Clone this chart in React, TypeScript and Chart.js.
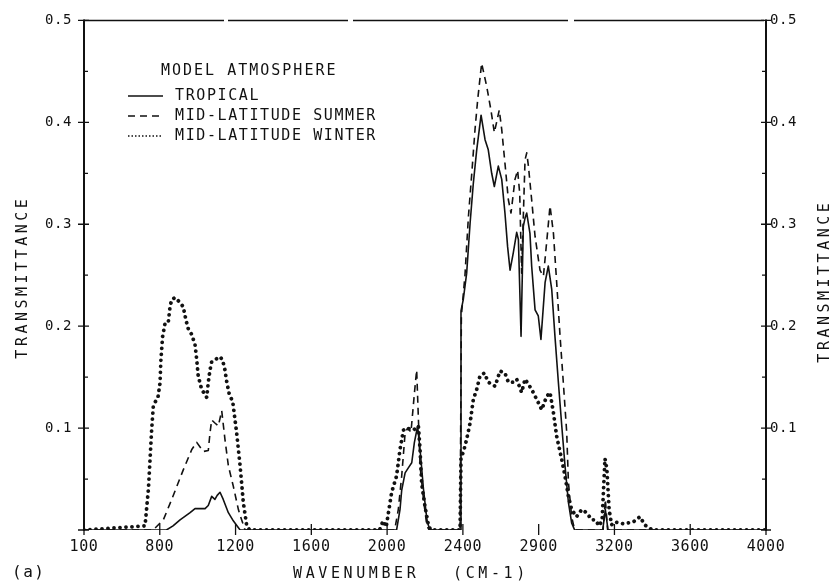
import React, { useEffect, useRef } from 'react';
import { Chart, registerables } from 'chart.js';

Chart.register(...registerables);

// ---------- data ----------
const X_TICK_LABELS = ['100', '800', '1200', '1600', '2000', '2400', '2900', '3200', '3600', '4000'];
const Y_TICK_LABELS = ['', '0.1', '0.2', '0.3', '0.4', '0.5'];

const LEGEND_TITLE = 'MODEL ATMOSPHERE';
const SERIES_NAMES = ['TROPICAL', 'MID-LATITUDE SUMMER', 'MID-LATITUDE WINTER'];
const X_TITLE_A = 'WAVENUMBER';
const X_TITLE_B = '(CM-1)';
const Y_TITLE = 'TRANSMITTANCE';
const PANEL_LABEL = '(a)';

const tropicalX = [400, 835, 870, 907, 960, 986, 1039, 1056, 1074, 1091, 1103, 1118, 1135, 1162, 1188, 1224,
  2050, 2068, 2077, 2095, 2112, 2130, 2144, 2161, 2174, 2192, 2210, 2225,
  2385, 2390, 2402, 2420, 2438, 2455, 2473, 2496, 2517, 2534, 2552, 2566, 2587, 2605, 2622, 2636, 2649, 2666,
  2684, 2693, 2707, 2719, 2728, 2737, 2754, 2763, 2781, 2798, 2812, 2834, 2851, 2869, 2886, 2904, 2922, 2939,
  2957, 2974, 2990, 3138, 3152, 3166, 4000];
const tropicalY = [0, 0, 0.004, 0.01, 0.017, 0.021, 0.021, 0.024, 0.033, 0.03, 0.034, 0.037, 0.03, 0.017, 0.009, 0,
  0, 0.02, 0.039, 0.056, 0.061, 0.066, 0.086, 0.102, 0.079, 0.04, 0.01, 0,
  0, 0.215, 0.226, 0.252, 0.301, 0.34, 0.373, 0.407, 0.383, 0.373, 0.35, 0.337, 0.357, 0.344, 0.311, 0.278, 0.255, 0.272,
  0.292, 0.285, 0.19, 0.298, 0.306, 0.311, 0.291, 0.259, 0.216, 0.21, 0.187, 0.243, 0.259, 0.236, 0.19, 0.145, 0.102, 0.063,
  0.027, 0.007, 0, 0, 0.02, 0, 0];

const summerX = [400, 765, 819, 863, 924, 969, 995, 1030, 1056, 1065, 1074, 1091, 1109, 1127, 1144, 1162, 1188, 1215, 1232, 1250,
  2040, 2059, 2077, 2095, 2108, 2126, 2144, 2156, 2165, 2174, 2192, 2210, 2222,
  2385, 2392, 2411, 2429, 2447, 2464, 2478, 2499, 2526, 2548, 2566, 2592, 2605, 2622, 2640, 2654, 2675, 2689, 2700,
  2710, 2728, 2737, 2746, 2763, 2781, 2807, 2825, 2842, 2860, 2878, 2895, 2913, 2930, 2948, 2957, 2974, 2990,
  3140, 3152, 3164, 4000];
const summerY = [0, 0, 0.01, 0.03, 0.059, 0.079, 0.086, 0.077, 0.078, 0.095, 0.108, 0.105, 0.102, 0.117, 0.089, 0.063, 0.043, 0.02, 0.01, 0,
  0, 0.02, 0.053, 0.095, 0.1, 0.096, 0.134, 0.157, 0.11, 0.063, 0.03, 0.004, 0,
  0, 0.21, 0.25, 0.307, 0.35, 0.393, 0.422, 0.458, 0.435, 0.412, 0.39, 0.412, 0.393, 0.36, 0.324, 0.311, 0.344, 0.353, 0.33,
  0.252, 0.363, 0.37, 0.357, 0.324, 0.288, 0.255, 0.249, 0.282, 0.318, 0.291, 0.243, 0.19, 0.145, 0.096, 0.047, 0.013, 0,
  0, 0.03, 0, 0];

const winterX = [400, 722, 740, 757, 766, 791, 801, 806, 815, 828, 845, 854, 863, 880, 903, 924, 938, 951, 968, 986, 995,
  1003, 1021, 1048, 1056, 1065, 1074, 1091, 1118, 1131, 1144, 1153, 1167, 1185, 1206, 1224, 1241, 1259, 1275,
  1960, 1979, 1995, 2024, 2050, 2068, 2086, 2103, 2138, 2165, 2174, 2182, 2200, 2218, 2230,
  2385, 2390, 2402, 2420, 2438, 2455, 2473, 2490, 2513, 2534, 2570, 2596, 2622, 2640, 2666, 2684, 2710, 2728,
  2763, 2798, 2816, 2842, 2860, 2878, 2895, 2922, 2939, 2957, 2974, 3000, 3027, 3053, 3080, 3098, 3120,
  3135, 3150, 3160, 3172, 3185, 3200, 3250, 3300, 3335, 3360, 3400, 4000];
const winterY = [0, 0.004, 0.04, 0.098, 0.122, 0.131, 0.144, 0.167, 0.19, 0.203, 0.204, 0.219, 0.226, 0.228, 0.224, 0.219, 0.206, 0.197, 0.192, 0.182, 0.167,
  0.151, 0.138, 0.13, 0.145, 0.157, 0.165, 0.167, 0.17, 0.167, 0.157, 0.146, 0.133, 0.126, 0.095, 0.063, 0.027, 0.004, 0,
  0, 0.009, 0.003, 0.037, 0.053, 0.079, 0.098, 0.1, 0.098, 0.102, 0.079, 0.046, 0.023, 0.005, 0,
  0, 0.072, 0.076, 0.089, 0.105, 0.128, 0.138, 0.151, 0.154, 0.145, 0.141, 0.156, 0.154, 0.145, 0.145, 0.148, 0.135, 0.148,
  0.138, 0.125, 0.118, 0.131, 0.135, 0.115, 0.092, 0.069, 0.053, 0.033, 0.02, 0.013, 0.02, 0.017, 0.01, 0.01, 0.004,
  0.01, 0.07, 0.06, 0.02, 0.005, 0.008, 0.006, 0.008, 0.013, 0.005, 0, 0];

// ---------- styling ----------
const FONT = '"DejaVu Sans Mono", monospace';
const INK = '#111';

const SERIES_STYLE = [
  { borderWidth: 1.6, borderDash: [] as number[], borderCapStyle: 'butt' },
  { borderWidth: 1.6, borderDash: [7, 5], borderCapStyle: 'butt' },
  { borderWidth: 3.8, borderDash: [0.01, 6], borderCapStyle: 'round' },
];

const toPoints = (xs: number[], ys: number[]) => xs.map((x, i) => ({ x, y: ys[i] }));

function drawText(ctx: CanvasRenderingContext2D, s: string, x: number, y: number, size: number,
  spacing: number, align: CanvasTextAlign = 'left', rot = 0) {
  ctx.save();
  ctx.translate(x, y);
  if (rot) ctx.rotate(rot);
  ctx.font = `${size}px ${FONT}`;
  (ctx as any).letterSpacing = `${spacing}px`;
  ctx.fillStyle = INK;
  ctx.textAlign = align;
  ctx.textBaseline = 'middle';
  ctx.fillText(s, 0, 0);
  ctx.restore();
}

const framePlugin = {
  id: 'frame',
  beforeDraw(chart: any) {
    (chart.ctx as any).letterSpacing = '0.6px';
  },
  beforeDatasetsDraw(chart: any) {
    const { ctx, chartArea } = chart;
    const { left, right, top, bottom } = chartArea;
    const xs = chart.scales.x;
    const ys = chart.scales.y;
    ctx.save();
    (ctx as any).letterSpacing = '0px';
    ctx.strokeStyle = INK;
    ctx.lineCap = 'butt';
    // side axes
    ctx.lineWidth = 2;
    ctx.beginPath();
    ctx.moveTo(left, top - 1);
    ctx.lineTo(left, bottom + 1);
    ctx.moveTo(right, top - 1);
    ctx.lineTo(right, bottom + 1);
    ctx.stroke();
    // top border (broken plotter line)
    ctx.lineWidth = 1.5;
    ctx.setLineDash([140, 4, 120, 5, 215, 6, 190]);
    ctx.beginPath();
    ctx.moveTo(left, top);
    ctx.lineTo(right, top);
    ctx.stroke();
    ctx.setLineDash([]);
    // y ticks
    ctx.lineWidth = 1.3;
    for (let k = 0; k <= 10; k++) {
      const v = k * 0.05;
      const py = ys.getPixelForValue(v);
      const major = k % 2 === 0;
      ctx.beginPath();
      if (major) {
        ctx.moveTo(left - 6, py); ctx.lineTo(left + 5, py);
        ctx.moveTo(right - 5, py); ctx.lineTo(right + 5, py);
      } else {
        ctx.moveTo(left, py); ctx.lineTo(left + 4, py);
        ctx.moveTo(right - 4, py); ctx.lineTo(right, py);
      }
      ctx.stroke();
    }
    // x ticks (crosses)
    xs.ticks.forEach((t: any) => {
      const px = xs.getPixelForValue(t.value);
      ctx.beginPath();
      ctx.moveTo(px, bottom - 6);
      ctx.lineTo(px, bottom + 5);
      ctx.stroke();
    });
    ctx.restore();
  },
  afterDraw(chart: any) {
    const { ctx, chartArea } = chart;
    const { top, bottom } = chartArea;
    const midY = (top + bottom) / 2;
    // axis titles
    drawText(ctx, Y_TITLE, 23, midY + 2, 15, 3.5, 'center', -Math.PI / 2);
    drawText(ctx, Y_TITLE, 825, midY + 6, 15, 3.5, 'center', -Math.PI / 2);
    drawText(ctx, X_TITLE_A, 293, 574, 15, 3.6, 'left');
    drawText(ctx, X_TITLE_B, 453, 574, 15, 3.6, 'left');
    drawText(ctx, PANEL_LABEL, 12, 573, 16, 1.5, 'left');
    // legend
    drawText(ctx, LEGEND_TITLE, 161, 71, 15, 2, 'left');
    const rows = [96, 116, 136];
    SERIES_NAMES.forEach((name, i) => {
      const st = SERIES_STYLE[i];
      ctx.save();
      ctx.strokeStyle = INK;
      ctx.lineWidth = i === 2 ? 1.6 : st.borderWidth;
      ctx.setLineDash(i === 2 ? [1.5, 2] : st.borderDash);
      ctx.beginPath();
      ctx.moveTo(128, rows[i]);
      ctx.lineTo(163, rows[i]);
      ctx.stroke();
      ctx.restore();
      drawText(ctx, name, 175, rows[i], 15, 1.6, 'left');
    });
  },
};

export default function App() {
  const ref = useRef<HTMLCanvasElement | null>(null);

  useEffect(() => {
    const canvas = ref.current;
    if (!canvas) return;
    const series = [
      toPoints(tropicalX, tropicalY),
      toPoints(summerX, summerY),
      toPoints(winterX, winterY),
    ];
    const chart = new Chart(canvas, {
      type: 'line',
      data: {
        datasets: series.map((pts, i) => ({
          label: SERIES_NAMES[i],
          data: pts,
          borderColor: INK,
          borderWidth: SERIES_STYLE[i].borderWidth,
          borderDash: SERIES_STYLE[i].borderDash,
          borderCapStyle: SERIES_STYLE[i].borderCapStyle as any,
          borderJoinStyle: 'round',
          pointRadius: 0,
          tension: 0,
          fill: false,
        })),
      },
      options: {
        responsive: false,
        animation: false,
        devicePixelRatio: 1,
        layout: { padding: { top: 20, left: 0, right: 0, bottom: 0 } },
        plugins: { legend: { display: false }, title: { display: false }, tooltip: { enabled: false } },
        scales: {
          x: {
            type: 'linear',
            min: 400,
            max: 4000,
            grid: { display: false, drawTicks: false },
            border: { display: false },
            afterFit: (s: any) => { s.height = 54; },
            ticks: {
              stepSize: 400,
              autoSkip: false,
              maxRotation: 0,
              padding: 8,
              color: INK,
              font: { family: FONT, size: 15 },
              callback: (_v: any, i: number) => X_TICK_LABELS[i] ?? '',
            },
          },
          y: {
            type: 'linear',
            position: 'left',
            min: 0,
            max: 0.5,
            grid: { display: false, drawTicks: false },
            border: { display: false },
            afterFit: (s: any) => { s.width = 84; },
            ticks: {
              stepSize: 0.1,
              padding: 12,
              color: INK,
              font: { family: FONT, size: 14 },
              callback: (_v: any, i: number) => Y_TICK_LABELS[i] ?? '',
            },
          },
          y2: {
            type: 'linear',
            position: 'right',
            min: 0,
            max: 0.5,
            grid: { display: false, drawTicks: false },
            border: { display: false },
            afterFit: (s: any) => { s.width = 72; },
            ticks: {
              stepSize: 0.1,
              padding: 4,
              color: INK,
              font: { family: FONT, size: 14 },
              callback: (_v: any, i: number) => Y_TICK_LABELS[i] ?? '',
            },
          },
        },
      },
      plugins: [framePlugin],
    });
    return () => chart.destroy();
  }, []);

  return (
    <div style={{ position: 'fixed', left: 0, top: 0, width: 838, height: 584, background: '#fff' }}>
      <canvas ref={ref} width={838} height={584} style={{ display: 'block', width: 838, height: 584 }} />
    </div>
  );
}
